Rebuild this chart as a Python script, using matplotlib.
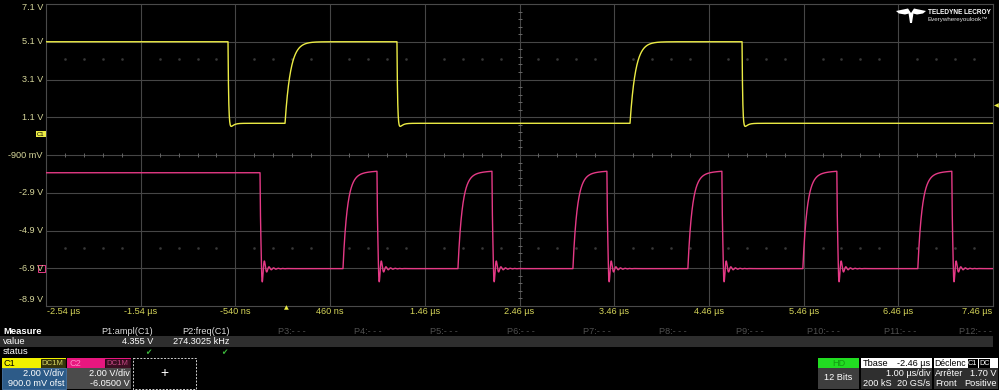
import numpy as np
import matplotlib
matplotlib.use("Agg")
import matplotlib.pyplot as plt
from matplotlib.patches import Rectangle, Polygon

plt.rcParams['font.family'] = ['Liberation Sans', 'DejaVu Sans']

x_tick_labels = ['-2.54 µs', '-1.54 µs', '-540 ns', '460 ns', '1.46 µs', '2.46 µs',
                 '3.46 µs', '4.46 µs', '5.46 µs', '6.46 µs', '7.46 µs']
y_tick_labels = ['7.1 V', '5.1 V', '3.1 V', '1.1 V', '-900 mV', '-2.9 V', '-4.9 V',
                 '-6.9 V', '-8.9 V']
t_start, t_end = -2.54, 7.46          # µs
volts_per_div = 2.0
c1_offset = 0.9                       # V  (900.0 mV ofst)
c2_offset = -6.05                     # V

# C1 (yellow) edges in µs and levels in V
c1_fall_times = [-0.618, 1.166, 4.81]
c1_rise_times = [-0.016, 3.627]
c1_high, c1_low = 5.1, 0.78
# C2 (pink) edges in µs and levels in V
c2_fall_times = [-0.28, 0.955, 2.169, 3.383, 4.597, 5.811, 7.025]
c2_rise_times = [0.596, 1.81, 3.024, 4.238, 5.452, 6.666]
c2_high_start, c2_peak, c2_low = 5.11, 5.25, 0.03

trigger_level = 1.70
measure_names = ['P1:ampl(C1)', 'P2:freq(C1)', 'P3:- - -', 'P4:- - -', 'P5:- - -', 'P6:- - -',
                 'P7:- - -', 'P8:- - -', 'P9:- - -', 'P10:- - -', 'P11:- - -', 'P12:- - -']
measure_values = ['4.355 V', '274.3025 kHz']

# ---------------- waveform shaping ----------------
t = np.linspace(t_start, t_end, 40001)


def build(v0, rises, falls, rise_fn, fall_fn):
    ev = sorted([(x, 'r') for x in rises] + [(x, 'f') for x in falls])
    v = np.full_like(t, v0)
    prev = v0
    for i, (te, kind) in enumerate(ev):
        tend = ev[i + 1][0] if i + 1 < len(ev) else t_end + 1
        fn = rise_fn if kind == 'r' else fall_fn
        m = (t >= te) & (t < tend)
        v[m] = fn(t[m] - te, prev)
        prev = fn(np.array([tend - te]), prev)[0]
    return v


def c1_rise(dt, p):
    return p + (c1_high - p) * (1 - np.exp(-dt / 0.058))


def c1_fall(dt, p):
    return (c1_low + (p - c1_low) * np.exp(-dt / 0.008)
            - 0.7 * (np.exp(-dt / 0.03) - np.exp(-dt / 0.004)))


def c2_rise(dt, p):
    return p + (c2_peak - p) * (0.93 * (1 - np.exp(-dt / 0.045)) + 0.07 * (1 - np.exp(-dt / 0.2)))


def c2_fall(dt, p):
    d = np.clip(dt - 0.012, 0, None)
    ring = -(1.35 * np.exp(-d / 0.02) + 0.25 * np.exp(-d / 0.07)) * np.sin(2 * np.pi * d / 0.048)
    return c2_low + (p - c2_low) * np.exp(-dt / 0.008) + ring


c1 = build(c1_high, c1_rise_times, c1_fall_times, c1_rise, c1_fall)
c2 = build(c2_high_start, c2_rise_times, c2_fall_times, c2_rise, c2_fall)
c1_div = (c1 + c1_offset) / volts_per_div
c2_div = (c2 + c2_offset) / volts_per_div

# ---------------- figure ----------------
W, H = 999, 390
fig = plt.figure(figsize=(W / 100, H / 100), dpi=100, facecolor='black')
L, R, T, B = 46, 993, 4, 306
ax = fig.add_axes([L / W, 1 - B / H, (R - L) / W, (B - T) / H])
ax.set_facecolor('black')
ax.set_xlim(-5, 5)
ax.set_ylim(-4, 4)
ax.set_xticks([])
ax.set_yticks([])
for s in ax.spines.values():
    s.set_color('#4a4a4a')
    s.set_linewidth(0.8)

grid_c = '#464646'
for k in range(-4, 5):
    ax.axvline(k, color=grid_c, lw=0.8, zorder=1)
for k in range(-3, 4):
    ax.axhline(k, color=grid_c, lw=0.8, zorder=1)
# minor tick dots on centre lines and two dotted rows
minor = np.arange(-5, 5.001, 0.2)
minor = minor[np.abs(minor - np.round(minor)) > 1e-6]
ax.plot(minor, np.zeros_like(minor), ls='none', marker='|', ms=3.5, color='#666666', mew=0.7, zorder=1)
for yy in (2.55, -2.47):
    ax.plot(minor, np.full_like(minor, yy), ls='none', marker='s', ms=0.8, color='#383838', zorder=1)
minor_y = np.arange(-4, 4.001, 0.2)
minor_y = minor_y[np.abs(minor_y - np.round(minor_y)) > 1e-6]
ax.plot(np.zeros_like(minor_y), minor_y, ls='none', marker='_', ms=3.5, color='#666666', mew=0.7, zorder=1)

t_div = (t - t_start) / 1.0 - 5
ax.plot(t_div, c2_div, color='#e53a86', lw=1.0, zorder=3)
ax.plot(t_div, c1_div, color='#ecec45', lw=1.0, zorder=4)

# ---------------- overlay in pixel coordinates ----------------
ov = fig.add_axes([0, 0, 1, 1])
ov.set_xlim(0, W)
ov.set_ylim(H, 0)
ov.axis('off')
ov.set_zorder(5)


def rect(x0, y0, x1, y1, fc, ec='none', lw=0.6, ls='-'):
    ov.add_patch(Rectangle((x0, y0), x1 - x0, y1 - y0, facecolor=fc, edgecolor=ec, lw=lw, ls=ls))


def txt(x, y, s, ha='left', color='white', size=6.6, weight='normal', **kw):
    ov.text(x, y, s, ha=ha, va='center', color=color, fontsize=size, fontweight=weight, **kw)


# y labels
div_px = (B - T) / 8
for i, lab in enumerate(y_tick_labels):
    yp = T + i * div_px
    yp = min(max(yp, 7), 300)
    txt(43, yp, lab, ha='right', color='#d6d69a', size=6.6)
# x labels
dx = (R - L) / 10
for i, lab in enumerate(x_tick_labels):
    xp = L + i * dx
    ha = 'center'
    if i == 0:
        xp, ha = L + 1, 'left'
    elif i == len(x_tick_labels) - 1:
        xp, ha = R - 1, 'right'
    txt(xp, 312, lab, ha=ha, color='#d6d65a', size=6.6)

# markers
trig_x = L + (0 - t_start) * dx
txt(trig_x, 308, '▲', ha='center', color='#ecec45', size=4.5, family=['DejaVu Sans'])
trig_y = T + (4 - (trigger_level + c1_offset) / volts_per_div) * div_px
txt(996, trig_y, '◀', ha='center', color='#ecec45', size=4.5, family=['DejaVu Sans'])
c1_zero_y = T + (4 - c1_offset / volts_per_div) * div_px
ov.text(41, c1_zero_y - 4, 'C1', ha='center', va='center', color='black', fontsize=4.3,
        bbox=dict(boxstyle='square,pad=0.15', fc='#ecec45', ec='none'))
c2_zero_y = T + (4 - c2_offset / volts_per_div) * div_px
rect(38, c2_zero_y - 4, 45, c2_zero_y + 3, 'none', ec='#e53a86', lw=0.7)

# logo
ov.add_patch(Polygon([(896, 11), (908, 8.5), (911, 13), (905, 14.5), (899, 13.5)], closed=True, fc='white', ec='none'))
ov.add_patch(Polygon([(926, 11), (914, 8.5), (911, 13), (917, 14.5), (923, 13.5)], closed=True, fc='white', ec='none'))
ov.add_patch(Polygon([(908.5, 13), (913.5, 13), (912, 23), (910, 23)], closed=True, fc='white', ec='none'))
txt(928, 12, 'TELEDYNE LECROY', color='white', size=4.7, weight='bold')
txt(928, 19.5, 'Everywhereyoulook™', color='#dddddd', size=4.5)

# measure table
rect(0, 336, 993, 346.5, '#2e2e2e')
txt(3, 331, 'Measure', color='white', size=6.8, weight='bold')
txt(3, 341, 'value', color='white', size=6.8)
txt(3, 352, 'status', color='white', size=6.8)
col_w = 76.3
for i, name in enumerate(measure_names):
    xr = 153 + i * col_w
    col = '#dcdcdc' if i < 2 else '#505050'
    txt(xr, 331, name, ha='right', color=col, size=6.6)
for i, val in enumerate(measure_values):
    xr = 153 + i * col_w
    txt(xr, 341, val, ha='right', color='white', size=6.6)
    txt(xr - 5, 352, '✔', ha='center', color='#3dbb3d', size=5.5, family=['DejaVu Sans'])

# channel boxes
rect(2, 358, 66, 368, '#f2f200')
txt(4, 363, 'C1', color='black', size=6.6)
rect(41, 359, 64.5, 367.5, '#35350e', ec='black', lw=0.5)
txt(52.7, 363.3, 'DC1M', ha='center', color='#d8d860', size=5.6)
rect(2, 368, 66, 389, '#2d5b88', ec='#4a78a8', lw=0.6)
txt(64, 373.5, '2.00 V/div', ha='right', size=6.6)
txt(64, 383, '900.0 mV ofst', ha='right', size=6.6)

rect(67, 358, 131, 368, '#e8177f')
txt(69, 363, 'C2', color='#ff8cc6', size=6.6)
rect(105, 359, 129.5, 367.5, '#3c0f22', ec='black', lw=0.5)
txt(117.2, 363.3, 'DC1M', ha='center', color='#c44684', size=5.6)
rect(67, 368, 131, 389, '#4b4b4b')
txt(129.5, 373.5, '2.00 V/div', ha='right', size=6.6)
txt(129.5, 383, '-6.0500 V', ha='right', size=6.6)

rect(133, 358, 196, 389, 'black', ec='#cfcfcf', lw=0.7, ls=(0, (2, 1.5)))
txt(164.5, 373.5, '+', ha='center', size=10)

# HD box
rect(818, 358, 859, 368, '#22dd22')
txt(838.5, 363, 'HD', ha='center', color='#129a12', size=6.6)
rect(818, 368, 859, 389, '#3e3e3e')
txt(838.5, 378, '12 Bits', ha='center', size=6.6)
# Tbase box
rect(860.5, 358, 932, 368, 'white')
txt(863, 363, 'Tbase', color='black', size=6.6)
txt(930.5, 363, '-2.46 µs', ha='right', color='black', size=6.6)
rect(860.5, 368, 932, 389, '#2f2f2f')
txt(930.5, 373.5, '1.00 µs/div', ha='right', size=6.6)
txt(863, 383, '200 kS', size=6.6)
txt(930.5, 383, '20 GS/s', ha='right', size=6.6)
# Trigger box
rect(933.5, 358, 998, 368, 'white')
txt(934.5, 363, 'Déclenc', color='black', size=6.2)
rect(967.5, 359, 977.5, 367.5, 'black')
txt(972.5, 363.3, 'C1', ha='center', color='white', size=5.2)
rect(979, 359, 990, 367.5, 'black')
txt(984.5, 363.3, 'DC', ha='center', color='white', size=5.2)
rect(933.5, 368, 998, 389, '#2f2f2f')
txt(935, 373.5, 'Arrêter', size=6.6)
txt(997, 373.5, '1.70 V', ha='right', size=6.6)
txt(935, 383, 'Front', size=6.6)
txt(997, 383, 'Positive', ha='right', size=6.6)

fig.savefig('out.png', dpi=100, facecolor='black')
